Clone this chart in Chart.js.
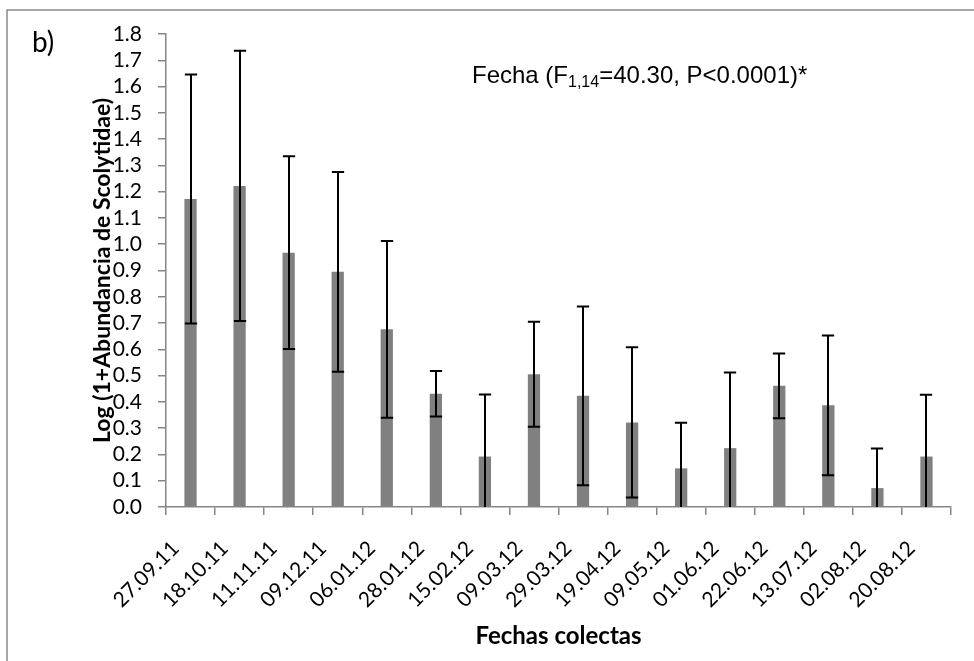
<!DOCTYPE html>
<html>
<head>
<meta charset="utf-8">
<script src="https://cdn.jsdelivr.net/npm/chart.js@4.4.0/dist/chart.umd.min.js"></script>
<style>
  html, body { margin: 0; padding: 0; background: #fff; }
  #wrap { width: 974px; height: 661px; position: relative; }
</style>
</head>
<body>
<div id="wrap"><canvas id="c" width="974" height="661"></canvas></div>
<script>
// Sampling dates
const fechas = ['27.09.11', '18.10.11', '11.11.11', '09.12.11', '06.01.12', '28.01.12', '15.02.12', '09.03.12',
                '29.03.12', '19.04.12', '09.05.12', '01.06.12', '22.06.12', '13.07.12', '02.08.12', '20.08.12'];
// Mean log(1 + abundance) per date
const medias = [1.172, 1.222, 0.968, 0.895, 0.676, 0.431, 0.192, 0.505,
                0.423, 0.322, 0.147, 0.224, 0.461, 0.387, 0.072, 0.192];
// Error (± half-length of each error bar)
const errores = [0.474, 0.514, 0.367, 0.380, 0.336, 0.087, 0.236, 0.200,
                 0.340, 0.286, 0.174, 0.288, 0.123, 0.266, 0.151, 0.235];

const yMax = 1.8;
const yStep = 0.1;

const TICK_FONT = 'Lato, "Open Sans", sans-serif';
const GRAY = '#868686';

// White background and the outer frame of the figure
const fondo = {
  id: 'fondo',
  beforeDraw(chart) {
    const { ctx, width, height } = chart;
    ctx.save();
    ctx.fillStyle = '#fff';
    ctx.fillRect(0, 0, width, height);
    ctx.strokeStyle = '#8a8a8a';
    ctx.lineWidth = 1.5;
    ctx.beginPath();
    ctx.moveTo(7, height);
    ctx.lineTo(7, 10);
    ctx.lineTo(width, 10);
    ctx.stroke();
    ctx.restore();
  }
};

// Error bars drawn through the chart's own scales
const barrasError = {
  id: 'barrasError',
  afterDatasetsDraw(chart) {
    const { ctx, chartArea, scales: { y } } = chart;
    const meta = chart.getDatasetMeta(0);
    ctx.save();
    ctx.beginPath();
    ctx.rect(chartArea.left, chartArea.top - 5, chartArea.right - chartArea.left, chartArea.bottom - chartArea.top + 5);
    ctx.clip();
    ctx.strokeStyle = '#000';
    ctx.lineWidth = 2;
    meta.data.forEach((bar, i) => {
      const cx = Math.round(bar.x);
      const half = bar.width / 2;
      const yHi = y.getPixelForValue(medias[i] + errores[i]);
      const yLo = y.getPixelForValue(medias[i] - errores[i]);
      ctx.beginPath();
      ctx.moveTo(cx, yHi);
      ctx.lineTo(cx, yLo);
      ctx.moveTo(cx - half, yHi);
      ctx.lineTo(cx + half, yHi);
      ctx.moveTo(cx - half, yLo);
      ctx.lineTo(cx + half, yLo);
      ctx.stroke();
    });
    ctx.restore();
  }
};

// Panel letter and the test statistic annotation
const textos = {
  id: 'textos',
  afterDraw(chart) {
    const { ctx } = chart;
    ctx.save();
    ctx.fillStyle = '#000';
    ctx.textBaseline = 'alphabetic';
    ctx.textAlign = 'left';
    ctx.font = '28px ' + TICK_FONT;
    ctx.fillText('b)', 32, 52);

    let x = 472;
    const base = 83;
    ctx.font = '24px "Liberation Sans", Arial, sans-serif';
    const t1 = 'Fecha (F';
    ctx.fillText(t1, x, base);
    x += ctx.measureText(t1).width;
    ctx.font = '16px "Liberation Sans", Arial, sans-serif';
    const sub = '1,14';
    ctx.fillText(sub, x, base + 4);
    x += ctx.measureText(sub).width;
    ctx.font = '24px "Liberation Sans", Arial, sans-serif';
    ctx.fillText('=40.30, P<0.0001)*', x, base);
    ctx.restore();
  }
};

new Chart(document.getElementById('c'), {
  type: 'bar',
  data: {
    labels: fechas,
    datasets: [{
      data: medias,
      backgroundColor: '#808080',
      borderWidth: 0,
      categoryPercentage: 1.0,
      barPercentage: 0.25
    }]
  },
  options: {
    responsive: false,
    animation: false,
    events: [],
    layout: { padding: { top: 34, right: 23, left: 0, bottom: 0 } },
    plugins: { legend: { display: false }, tooltip: { enabled: false } },
    scales: {
      x: {
        grid: { display: true, drawOnChartArea: false, offset: true, tickLength: 8, color: GRAY, lineWidth: 1.5 },
        border: { display: true, color: GRAY, width: 1.5 },
        ticks: {
          autoSkip: false, minRotation: 45, maxRotation: 45, padding: 21, labelOffset: -15,
          color: '#000', font: { family: TICK_FONT, size: 21 }
        },
        title: {
          display: true, text: 'Fechas colectas', color: '#000',
          font: { family: TICK_FONT, size: 24, weight: 'bold' },
          padding: { top: 0, bottom: 10 }
        },
        afterFit(scale) { scale.height = 154; }
      },
      y: {
        min: 0, max: yMax,
        grid: { display: true, drawOnChartArea: false, tickLength: 8, color: GRAY, lineWidth: 1.5 },
        border: { display: true, color: GRAY, width: 1.5 },
        ticks: {
          stepSize: yStep, autoSkip: false, padding: 16, color: '#000',
          font: { family: TICK_FONT, size: 21 },
          callback: (v) => Number(v).toFixed(1)
        },
        title: {
          display: true, text: 'Log (1+Abundancia de Scolytidae)', color: '#000',
          font: { family: TICK_FONT, size: 23, weight: 'bold' },
          padding: { top: 89, bottom: 0 }
        },
        afterFit(scale) { scale.width = 166; }
      }
    }
  },
  plugins: [fondo, barrasError, textos]
});
</script>
</body>
</html>
